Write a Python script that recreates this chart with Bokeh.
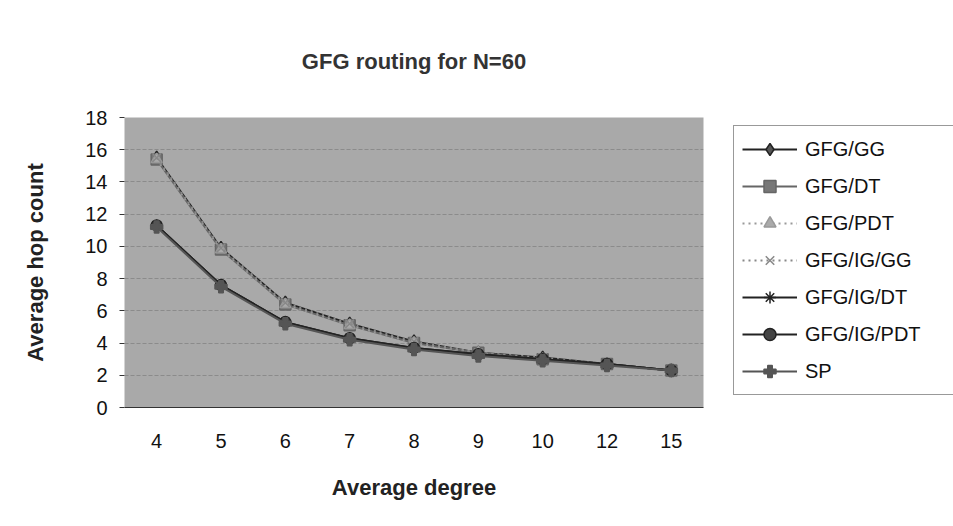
from bokeh.plotting import figure
from bokeh.layouts import row
from bokeh.models import Legend, LegendItem, FixedTicker, Range1d, FactorRange
from bokeh.embed import file_html
from bokeh.resources import INLINE

categories = ["4", "5", "6", "7", "8", "9", "10", "12", "15"]
gfg_gg = [15.5, 9.9, 6.5, 5.2, 4.1, 3.4, 3.1, 2.7, 2.3]
gfg_dt = [15.4, 9.8, 6.4, 5.1, 4.0, 3.4, 3.0, 2.7, 2.3]
gfg_pdt = [15.4, 9.8, 6.4, 5.1, 4.0, 3.4, 3.0, 2.7, 2.3]
gfg_ig_gg = [15.5, 9.9, 6.5, 5.2, 4.1, 3.4, 3.1, 2.7, 2.3]
gfg_ig_dt = [11.3, 7.6, 5.3, 4.3, 3.7, 3.3, 3.0, 2.7, 2.3]
gfg_ig_pdt = [11.3, 7.6, 5.3, 4.3, 3.7, 3.3, 3.0, 2.7, 2.3]
sp = [11.2, 7.5, 5.2, 4.2, 3.6, 3.2, 2.9, 2.6, 2.3]
series_names = ["GFG/GG", "GFG/DT", "GFG/PDT", "GFG/IG/GG", "GFG/IG/DT", "GFG/IG/PDT", "SP"]
series_values = [gfg_gg, gfg_dt, gfg_pdt, gfg_ig_gg, gfg_ig_dt, gfg_ig_pdt, sp]
y_ticks = [0, 2, 4, 6, 8, 10, 12, 14, 16, 18]

styles = [
    dict(color="#222222", dash="solid", marker="diamond", fill="#555555", size=13),
    dict(color="#666666", dash="solid", marker="square", fill="#777777", size=11),
    dict(color="#999999", dash="dotted", marker="triangle", fill="#aaaaaa", size=11),
    dict(color="#888888", dash="dotted", marker="x", fill="#999999", size=12),
    dict(color="#222222", dash="solid", marker="asterisk", fill="#333333", size=12),
    dict(color="#222222", dash="solid", marker="circle", fill="#444444", size=11),
    dict(color="#555555", dash="solid", marker="plus", fill="#555555", size=12),
]

FONT = "Liberation Sans"

# main chart: frame spans x 124..703, y 117..407
p = figure(width=733, height=526, x_range=FactorRange(*categories), y_range=Range1d(0, 18),
           output_backend="svg", toolbar_location=None,
           min_border_left=124, min_border_right=30, min_border_top=117, min_border_bottom=119)

p.background_fill_color = "#a9a9a9"
p.border_fill_color = "white"
p.outline_line_color = None

p.title.text = "GFG routing for N=60"
p.title.align = "center"
p.title.text_font = FONT
p.title.text_font_size = "22px"
p.title.text_font_style = "bold"
p.title.text_color = "#333333"
p.title.standoff = 88

for vals, st in zip(series_values, styles):
    p.line(categories, vals, line_color=st["color"], line_width=2, line_dash=st["dash"])
    p.scatter(categories, vals, marker=st["marker"], size=st["size"],
              fill_color=st["fill"], line_color=st["color"], line_width=1.5)

p.xgrid.grid_line_color = None
p.ygrid.grid_line_color = "#6e6e6e"
p.ygrid.grid_line_alpha = 0.5
p.ygrid.grid_line_dash = "4 2"

p.yaxis.ticker = FixedTicker(ticks=y_ticks)
p.yaxis.minor_tick_line_color = None
p.yaxis.axis_line_color = None
p.yaxis.major_tick_in = 0
p.yaxis.major_tick_out = 5
p.yaxis.major_tick_line_color = "#333333"
p.yaxis.major_label_standoff = 12
p.yaxis.axis_label = "Average hop count"
p.yaxis.axis_label_standoff = 34

p.xaxis.axis_line_color = "#333333"
p.xaxis.major_tick_line_color = None
p.xaxis.major_label_standoff = 20
p.xaxis.axis_label = "Average degree"
p.xaxis.axis_label_standoff = 24

for ax in (p.xaxis[0], p.yaxis[0]):
    ax.major_label_text_font = FONT
    ax.major_label_text_font_size = "20px"
    ax.major_label_text_color = "#111111"
    ax.axis_label_text_font = FONT
    ax.axis_label_text_font_size = "22px"
    ax.axis_label_text_font_style = "bold"
    ax.axis_label_text_color = "#222222"

# legend panel: a second figure whose series lie outside its visible range
q = figure(width=220, height=526, x_range=FactorRange(*categories), y_range=Range1d(1000, 1001),
           output_backend="svg", toolbar_location=None, x_axis_type=None, y_axis_type=None,
           min_border_left=0, min_border_right=0, min_border_top=117, min_border_bottom=119)
q.outline_line_color = None
q.background_fill_color = "white"
q.border_fill_color = "white"
q.xgrid.visible = False
q.ygrid.visible = False

items = []
for name, vals, st in zip(series_names, series_values, styles):
    r1 = q.line(categories, vals, line_color=st["color"], line_width=2, line_dash=st["dash"])
    r2 = q.scatter(categories, vals, marker=st["marker"], size=st["size"],
                   fill_color=st["fill"], line_color=st["color"], line_width=1.5)
    items.append(LegendItem(label=name, renderers=[r1, r2]))

legend = Legend(items=items, location=(0, 12))
legend.label_text_font = FONT
legend.label_text_font_size = "20px"
legend.label_text_color = "#111111"
legend.glyph_width = 55
legend.glyph_height = 30
legend.label_height = 30
legend.label_standoff = 8
legend.label_width = 160
legend.spacing = 7
legend.padding = 8
legend.margin = 0
legend.border_line_color = "#333333"
legend.border_line_width = 1
legend.background_fill_color = "white"
legend.background_fill_alpha = 1
q.add_layout(legend, "center")

layout = row(p, q, spacing=0)
open("out.html", "w").write(file_html(layout, INLINE))
